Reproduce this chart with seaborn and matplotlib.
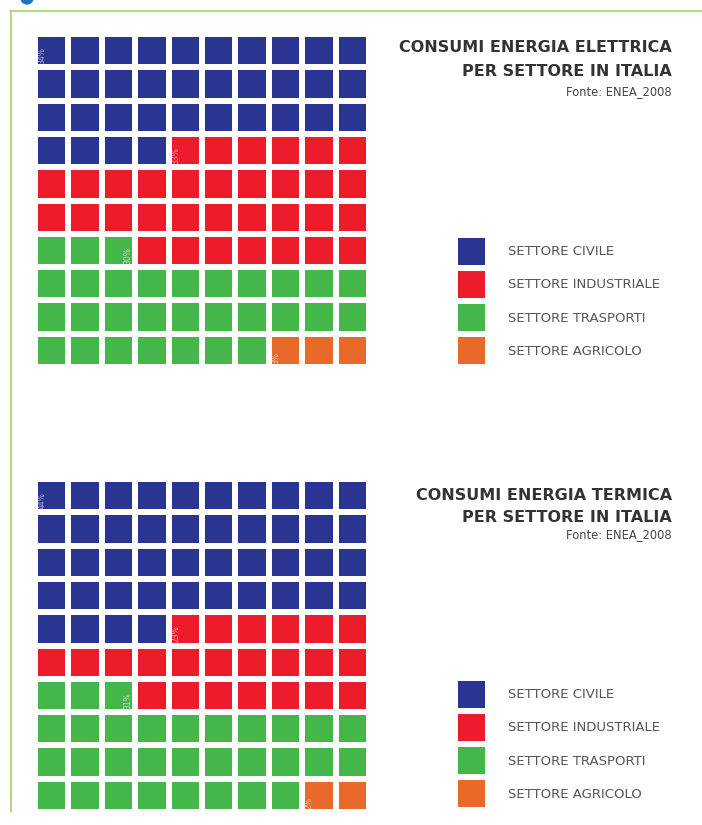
"""
plot.py

Waffle charts: consumi di energia elettrica e termica per settore in Italia (ENEA 2008).
"""

import numpy as np
import matplotlib
matplotlib.use("Agg")
import matplotlib.pyplot as plt
from matplotlib.colors import ListedColormap
from matplotlib.patches import Patch, Ellipse
from matplotlib.lines import Line2D
import seaborn as sns

# === Data ===
sectors = ["SETTORE CIVILE", "SETTORE INDUSTRIALE", "SETTORE TRASPORTI", "SETTORE AGRICOLO"]
electric_share = [34, 33, 30, 3]
thermal_share = [44, 23, 31, 2]
titles = [
    ("CONSUMI ENERGIA ELETTRICA", "PER SETTORE IN ITALIA"),
    ("CONSUMI ENERGIA TERMICA", "PER SETTORE IN ITALIA"),
]
source = "Fonte: ENEA_2008"

# === Style ===
colors = ["#2a3591", "#ec1c2a", "#45b64a", "#e9692a"]
label_side = ["start", "start", "end", "start"]
W, H = 702, 825

sns.set_style("white")
plt.rcParams["font.family"] = ["DejaVu Sans"]


def build_grid(shares):
    # civile + industriale fill from the top, trasporti + agricolo from the bottom rows
    n_up, n_low = sum(shares[:2]), sum(shares[2:])
    group = np.flipud(np.repeat([1, 0], [n_low, n_up]).reshape(10, 10)).ravel()
    flat = np.empty(100, dtype=int)
    flat[group == 0] = np.repeat([0, 1], shares[:2])
    flat[group == 1] = np.repeat([2, 3], shares[2:])
    return flat


def waffle(ax, shares):
    flat = build_grid(shares)
    sns.heatmap(flat.reshape(10, 10), ax=ax, cmap=ListedColormap(colors),
                vmin=-0.5, vmax=len(colors) - 0.5,
                cbar=False, linewidths=4.3, linecolor="white",
                xticklabels=False, yticklabels=False)
    for k, val in enumerate(shares):
        idx = np.flatnonzero(flat == k)
        cell = idx[0]
        if label_side[k] == "end":
            cell = idx[idx // 10 == cell // 10][-1]
        r, c = divmod(cell, 10)
        if label_side[k] == "end":
            x, ha = c + 0.92, "right"
        else:
            x, ha = c + 0.08, "left"
        ax.text(x, r + 0.9, f"{val}%", rotation=90, ha=ha, va="bottom",
                fontsize=5.5, color="white", alpha=0.6)
    ax.set_xlabel("")
    ax.set_ylabel("")


fig = plt.figure(figsize=(W / 100, H / 100), dpi=100)

panels = [
    (electric_share, 34, 367, (47, 72, 92), 238),
    (thermal_share, 479, 812, (495, 518, 535), 681),
]
for (shares, top, bottom, ty, leg_top), (t1, t2) in zip(panels, titles):
    ax = fig.add_axes([35 / W, 1 - bottom / H, 334 / W, (bottom - top) / H])
    waffle(ax, shares)

    fig.text(672 / W, 1 - ty[0] / H, t1, ha="right", va="center",
             fontsize=11.5, fontweight="bold", color="#333333")
    fig.text(672 / W, 1 - ty[1] / H, t2, ha="right", va="center",
             fontsize=11.5, fontweight="bold", color="#333333")
    fig.text(672 / W, 1 - ty[2] / H, source, ha="right", va="center",
             fontsize=8.3, color="#444444")

    handles = [Patch(facecolor=col, edgecolor="none") for col in colors]
    fig.legend(handles, sectors, loc="upper left",
               bbox_to_anchor=(458 / W, 1 - leg_top / H), frameon=False,
               fontsize=9.5, handlelength=2.05, handleheight=2.77,
               labelspacing=0.46, handletextpad=1.74, borderpad=0,
               borderaxespad=0, labelcolor="#555555")

# frame lines and corner marker
fig.add_artist(Line2D([10 / W, 1], [1 - 11 / H, 1 - 11 / H], color="#9ed36a", lw=1.2))
fig.add_artist(Line2D([11 / W, 11 / W], [1 - 11 / H, 1 - 812 / H], color="#9ed36a", lw=1.2))
fig.add_artist(Ellipse((27 / W, 1 + 2 / H), 12 / W, 12 / H, color="#1a75bb"))

plt.savefig("out.png", dpi=100)
plt.close()
